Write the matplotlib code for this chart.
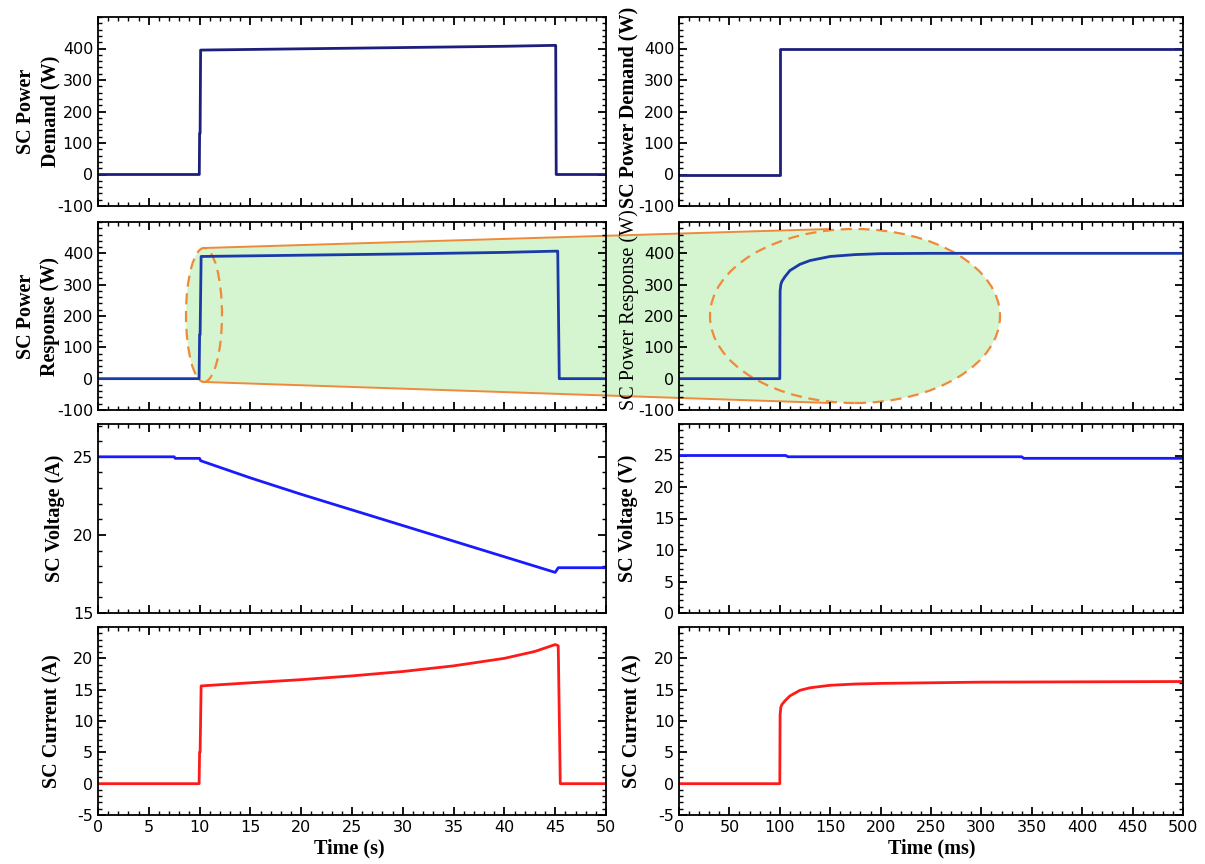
import matplotlib
matplotlib.use('Agg')
import matplotlib.pyplot as plt
from matplotlib.patches import Ellipse, Polygon
from matplotlib.lines import Line2D
from matplotlib.ticker import MultipleLocator

plt.rcParams['axes.unicode_minus'] = False

# ---- data ----
# left column: time in s
t_dem_s = [0, 9.97, 10.0, 10.05, 10.1, 20, 30, 40, 45.0, 45.05, 45.1, 50]
p_dem_s = [0, 0, 130, 130, 395, 399, 403, 407, 410, 410, 0, 0]

t_resp_s = [0, 9.95, 10.0, 10.05, 10.15, 20, 30, 40, 45.1, 45.25, 45.4, 50]
p_resp_s = [0, 0, 140, 140, 390, 394, 398, 403, 407, 407, 0, 0]

t_volt_s = [0, 7.5, 7.6, 10.0, 10.1, 15, 20, 25, 30, 35, 40, 45.0, 45.3, 50]
v_volt_s = [25.0, 25.0, 24.9, 24.9, 24.75, 23.65, 22.6, 21.6, 20.6, 19.6, 18.6, 17.6, 17.9, 17.9]

t_cur_s = [0, 9.95, 10.0, 10.05, 10.15, 15, 20, 25, 30, 35, 40, 43, 45.0, 45.3, 45.5, 50]
i_cur_s = [0, 0, 5, 5, 15.6, 16.1, 16.6, 17.2, 17.9, 18.8, 20.0, 21.1, 22.2, 22.0, 0, 0]

# right column: time in ms
t_dem_ms = [0, 100, 100, 500]
p_dem_ms = [0, 0, 400, 400]

t_resp_ms = [0, 100, 100.3, 101, 102, 105, 110, 120, 130, 150, 175, 200, 250, 500]
p_resp_ms = [0, 0, 280, 300, 310, 325, 345, 365, 377, 390, 396, 399, 400, 400]

t_volt_ms = [0, 106, 108, 340, 342, 500]
v_volt_ms = [25.0, 25.0, 24.8, 24.8, 24.55, 24.55]

t_cur_ms = [0, 100, 100.3, 101, 102, 105, 110, 120, 130, 150, 175, 200, 300, 500]
i_cur_ms = [0, 0, 11, 12.2, 12.6, 13.2, 14.0, 14.9, 15.3, 15.7, 15.9, 16.0, 16.2, 16.3]

W, H = 1205, 864
fig = plt.figure(figsize=(W / 100, H / 100), dpi=100)

serif = 'Liberation Serif'
tickfont = 'DejaVu Sans'

# axes boxes in pixels (left, top, right, bottom)
cols = [(98, 606), (679, 1183)]
rows = [(17, 206), (222, 410), (424, 613), (627, 815)]


def make_ax(col, row):
    x0, x1 = cols[col]
    y0, y1 = rows[row]
    ax = fig.add_axes([x0 / W, 1 - y1 / H, (x1 - x0) / W, (y1 - y0) / H])
    ax.set_facecolor('none')
    for s in ax.spines.values():
        s.set_linewidth(1.3)
    ax.tick_params(which='both', direction='in', top=True, right=True, labelsize=11.5)
    ax.tick_params(which='major', length=6, width=1.3)
    ax.tick_params(which='minor', length=3, width=1.0)
    return ax


series = [
    [(t_dem_s, p_dem_s, '#1c1f7c'), (t_dem_ms, p_dem_ms, '#1c1f7c')],
    [(t_resp_s, p_resp_s, '#1a3aa8'), (t_resp_ms, p_resp_ms, '#1a3aa8')],
    [(t_volt_s, v_volt_s, '#1a1aff'), (t_volt_ms, v_volt_ms, '#1a1aff')],
    [(t_cur_s, i_cur_s, '#ff1a1a'), (t_cur_ms, i_cur_ms, '#ff1a1a')],
]

ylims = [
    [(-100, 500), (-100, 500)],
    [(-100, 500), (-100, 500)],
    [(15, 27.1), (0, 30)],
    [(-5, 25), (-5, 25)],
]
yticks = [
    [(range(-100, 500, 100), 20), (range(-100, 500, 100), 20)],
    [(range(-100, 500, 100), 20), (range(-100, 500, 100), 20)],
    [([15, 20, 25], 1), (range(0, 30, 5), 1)],
    [(range(-5, 25, 5), 1), (range(-5, 25, 5), 1)],
]

for r in range(4):
    for c in range(2):
        ax = make_ax(c, r)
        x, y, color = series[r][c]
        ax.plot(x, y, color=color, lw=2.0)
        ax.set_ylim(*ylims[r][c])
        ticks, minor = yticks[r][c]
        ax.set_yticks(list(ticks))
        ax.yaxis.set_minor_locator(MultipleLocator(minor))
        if c == 0:
            ax.set_xlim(0, 50)
            ax.set_xticks(range(0, 51, 5))
            ax.xaxis.set_minor_locator(MultipleLocator(1))
        else:
            ax.set_xlim(0, 500)
            ax.set_xticks(range(0, 501, 50))
            ax.xaxis.set_minor_locator(MultipleLocator(10))
        if r < 3:
            ax.tick_params(labelbottom=False)
        for lab in ax.get_xticklabels() + ax.get_yticklabels():
            lab.set_fontfamily(tickfont)

# y labels
ylabels = [
    (38, 111, 'SC Power\nDemand (W)', 'bold'),
    (38, 316, 'SC Power\nResponse (W)', 'bold'),
    (55, 518, 'SC Voltage (A)', 'bold'),
    (52, 721, 'SC Current (A)', 'bold'),
    (628, 107, 'SC Power Demand (W)', 'bold'),
    (629, 310, 'SC Power Response (W)', 'normal'),
    (628, 518, 'SC Voltage (V)', 'bold'),
    (632, 721, 'SC Current (A)', 'bold'),
]
for x, y, txt, wt in ylabels:
    fig.text(x / W, 1 - y / H, txt, rotation=90, ha='center', va='center',
             family=serif, fontweight=wt, fontsize=14.5, linespacing=1.3)

fig.text(349 / W, 1 - 848 / H, 'Time (s)', ha='center', va='center',
         family=serif, fontweight='bold', fontsize=14.5)
fig.text(932 / W, 1 - 848 / H, 'Time (ms)', ha='center', va='center',
         family=serif, fontweight='bold', fontsize=14.5)

# zoom callout (figure pixels)
green = '#d5f5d0'
orange = '#ee8a3a'
tf = fig.transFigure


def fx(px):
    return px / W


def fy(py):
    return 1 - py / H


poly = Polygon([(fx(204), fy(248)), (fx(830), fy(229)), (fx(830), fy(403)), (fx(204), fy(382))],
               closed=True, facecolor=green, edgecolor='none', transform=tf, zorder=-2)
fig.add_artist(poly)
for cx, cy, w, h in [(204, 315, 36, 134), (855, 316, 290, 174)]:
    fill = Ellipse((fx(cx), fy(cy)), w / W, h / H, facecolor=green, edgecolor='none',
                   transform=tf, zorder=-2)
    fig.add_artist(fill)
    edge = Ellipse((fx(cx), fy(cy)), w / W, h / H, facecolor='none', edgecolor=orange,
                   lw=1.6, ls=(0, (5, 3)), transform=tf, zorder=-1)
    fig.add_artist(edge)
for (xa, ya), (xb, yb) in [((204, 248), (830, 229)), ((204, 382), (830, 403))]:
    fig.add_artist(Line2D([fx(xa), fx(xb)], [fy(ya), fy(yb)], color=orange, lw=1.4,
                          transform=tf, zorder=-1))

fig.savefig('out.png', dpi=100)
